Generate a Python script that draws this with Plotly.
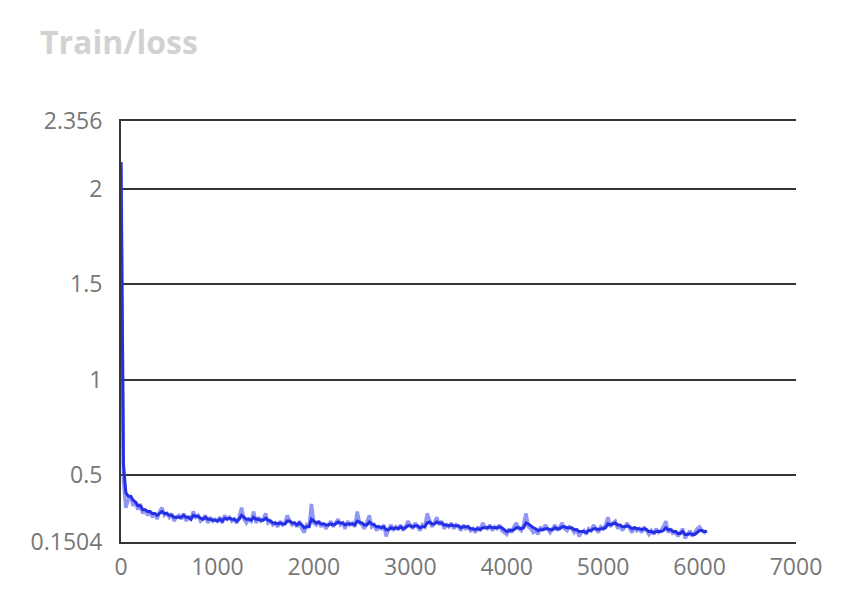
import plotly.graph_objects as go

steps = [25 * i for i in range(244)]

raw_loss = [
    2.14, 0.47, 0.33, 0.37, 0.39, 0.34, 0.36, 0.32, 0.35, 0.30,
    0.32, 0.29, 0.31, 0.28, 0.30, 0.27, 0.31, 0.33, 0.29, 0.30,
    0.28, 0.30, 0.26, 0.28, 0.29, 0.27, 0.30, 0.26, 0.28, 0.27,
    0.31, 0.28, 0.29, 0.26, 0.27, 0.29, 0.25, 0.28, 0.26, 0.27,
    0.26, 0.28, 0.25, 0.29, 0.27, 0.28, 0.26, 0.27, 0.25, 0.28,
    0.33, 0.27, 0.25, 0.27, 0.26, 0.31, 0.25, 0.28, 0.26, 0.27,
    0.30, 0.25, 0.26, 0.24, 0.25, 0.23, 0.26, 0.24, 0.25, 0.29,
    0.26, 0.24, 0.25, 0.23, 0.26, 0.22, 0.20, 0.24, 0.23, 0.35,
    0.25, 0.24, 0.26, 0.23, 0.25, 0.22, 0.24, 0.26, 0.23, 0.25,
    0.27, 0.24, 0.25, 0.22, 0.26, 0.24, 0.25, 0.23, 0.31, 0.25,
    0.24, 0.22, 0.25, 0.29, 0.23, 0.24, 0.21, 0.23, 0.22, 0.24,
    0.18, 0.22, 0.24, 0.21, 0.23, 0.22, 0.24, 0.21, 0.23, 0.26,
    0.24, 0.22, 0.25, 0.23, 0.21, 0.24, 0.23, 0.30, 0.26, 0.23,
    0.25, 0.28, 0.24, 0.26, 0.22, 0.24, 0.23, 0.25, 0.22, 0.24,
    0.23, 0.21, 0.24, 0.22, 0.23, 0.21, 0.22, 0.20, 0.23, 0.21,
    0.25, 0.23, 0.22, 0.24, 0.21, 0.23, 0.22, 0.24, 0.21, 0.20,
    0.19, 0.22, 0.20, 0.23, 0.25, 0.22, 0.21, 0.24, 0.30, 0.23,
    0.22, 0.20, 0.21, 0.19, 0.23, 0.21, 0.24, 0.22, 0.20, 0.22,
    0.24, 0.21, 0.23, 0.25, 0.22, 0.21, 0.23, 0.22, 0.20, 0.22,
    0.18, 0.20, 0.21, 0.19, 0.22, 0.21, 0.24, 0.22, 0.20, 0.23,
    0.22, 0.24, 0.28, 0.23, 0.25, 0.26, 0.22, 0.24, 0.21, 0.23,
    0.25, 0.22, 0.20, 0.23, 0.21, 0.22, 0.20, 0.23, 0.21, 0.19,
    0.21, 0.19, 0.22, 0.20, 0.21, 0.23, 0.26, 0.20, 0.22, 0.19,
    0.21, 0.18, 0.20, 0.22, 0.17, 0.19, 0.21, 0.18, 0.20, 0.22,
    0.23, 0.21, 0.20, 0.21,
]

smoothed_loss = [
    2.14, 0.56, 0.41, 0.39, 0.39, 0.37, 0.36, 0.34, 0.34, 0.32,
    0.32, 0.31, 0.31, 0.30, 0.30, 0.29, 0.30, 0.31, 0.30, 0.30,
    0.29, 0.29, 0.28, 0.28, 0.28, 0.28, 0.29, 0.28, 0.28, 0.27,
    0.29, 0.285, 0.285, 0.275, 0.27, 0.28, 0.27, 0.27, 0.265, 0.265,
    0.26, 0.27, 0.26, 0.275, 0.27, 0.275, 0.27, 0.27, 0.26, 0.27,
    0.29, 0.28, 0.27, 0.27, 0.265, 0.28, 0.27, 0.27, 0.265, 0.265,
    0.275, 0.265, 0.26, 0.25, 0.25, 0.245, 0.25, 0.245, 0.245, 0.26,
    0.26, 0.25, 0.25, 0.24, 0.25, 0.24, 0.225, 0.23, 0.23, 0.27,
    0.26, 0.25, 0.255, 0.245, 0.245, 0.24, 0.24, 0.245, 0.24, 0.245,
    0.255, 0.25, 0.25, 0.24, 0.245, 0.245, 0.245, 0.24, 0.26, 0.255,
    0.25, 0.24, 0.24, 0.255, 0.245, 0.24, 0.23, 0.23, 0.225, 0.23,
    0.215, 0.215, 0.225, 0.22, 0.225, 0.22, 0.23, 0.22, 0.225, 0.235,
    0.235, 0.23, 0.235, 0.235, 0.225, 0.23, 0.23, 0.25, 0.255, 0.245,
    0.245, 0.255, 0.25, 0.25, 0.24, 0.24, 0.235, 0.24, 0.235, 0.235,
    0.235, 0.225, 0.23, 0.23, 0.23, 0.22, 0.22, 0.215, 0.22, 0.215,
    0.225, 0.225, 0.225, 0.23, 0.225, 0.225, 0.225, 0.23, 0.225, 0.215,
    0.205, 0.21, 0.21, 0.215, 0.225, 0.225, 0.22, 0.225, 0.25, 0.245,
    0.235, 0.225, 0.22, 0.21, 0.215, 0.215, 0.22, 0.22, 0.215, 0.215,
    0.225, 0.22, 0.22, 0.23, 0.23, 0.225, 0.225, 0.225, 0.215, 0.215,
    0.205, 0.205, 0.205, 0.2, 0.21, 0.21, 0.22, 0.22, 0.215, 0.22,
    0.22, 0.225, 0.245, 0.24, 0.245, 0.25, 0.24, 0.24, 0.23, 0.23,
    0.235, 0.23, 0.22, 0.225, 0.22, 0.22, 0.215, 0.22, 0.215, 0.205,
    0.205, 0.2, 0.205, 0.205, 0.205, 0.21, 0.225, 0.215, 0.215, 0.205,
    0.205, 0.195, 0.195, 0.205, 0.19, 0.19, 0.195, 0.19, 0.19, 0.2,
    0.21, 0.21, 0.205, 0.205,
]

y_tickvals = [0.1504, 0.5, 1, 1.5, 2, 2.356]
y_ticktext = ["0.1504", "0.5", "1", "1.5", "2", "2.356"]
x_tickvals = [0, 1000, 2000, 3000, 4000, 5000, 6000, 7000]
x_ticktext = ["0", "1000", "2000", "3000", "4000", "5000", "6000", "7000"]

fig = go.Figure()
fig.add_trace(go.Scatter(
    x=steps, y=raw_loss, mode="lines",
    line=dict(color="rgba(55,65,235,0.55)", width=3.5),
    hoverinfo="skip", showlegend=False,
))
fig.add_trace(go.Scatter(
    x=steps, y=smoothed_loss, mode="lines",
    line=dict(color="rgb(36,46,228)", width=3),
    showlegend=False,
))

tick_font = dict(family="Open Sans, Noto Sans, sans-serif", size=23, color="#777777")

fig.update_layout(
    width=856, height=602,
    margin=dict(l=113, r=68, t=113, b=68),
    paper_bgcolor="white", plot_bgcolor="white",
    title=dict(
        text="<b>Train/loss</b>",
        font=dict(family="Open Sans, Noto Sans, sans-serif", size=32, color="#d2d2d2"),
        xref="container", yref="container",
        x=32 / 856, xanchor="left",
        y=1 - 35 / 602, yanchor="middle",
    ),
    xaxis=dict(
        range=[0, 7000],
        tickvals=x_tickvals, ticktext=x_ticktext,
        tickfont=tick_font,
        showgrid=False, zeroline=False,
        showline=True, linecolor="#363636", linewidth=2, mirror=True,
        ticks="outside", ticklen=3, tickcolor="rgba(0,0,0,0)",
    ),
    yaxis=dict(
        range=[0.1504, 2.356],
        tickvals=y_tickvals, ticktext=y_ticktext,
        tickfont=tick_font,
        showgrid=True, gridcolor="#363636", gridwidth=2,
        zeroline=False,
        showline=True, linecolor="#363636", linewidth=2,
        ticks="outside", ticklen=12, tickcolor="rgba(0,0,0,0)",
    ),
)

fig.write_html("out.html")
